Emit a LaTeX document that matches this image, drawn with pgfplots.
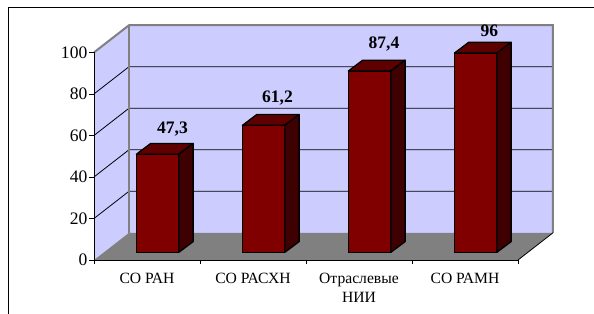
\documentclass[border=0pt]{standalone}
\usepackage{pgfplots}
\pgfplotsset{compat=1.18}
\usepackage{fontspec}
\setmainfont{Liberation Serif}
\definecolor{wall}{HTML}{CCCCFF}
\definecolor{floorgray}{HTML}{808080}
\definecolor{barfront}{HTML}{800000}
\definecolor{bartop}{HTML}{5E0000}
\definecolor{barside}{HTML}{3E0000}

% one 3-D bar: #1 = category index, #2 = value
\newcommand\threedbar[2]{%
  \pgfmathsetmacro\xa{#1+0.40}%
  \pgfmathsetmacro\xb{#1+0.80}%
  \pgfmathsetmacro\xc{#1+0.935}%
  \pgfmathsetmacro\xd{#1+0.535}%
  \pgfmathsetmacro\yb{3.66}%
  \pgfmathsetmacro\yt{#2+3.66}%
  \pgfmathsetmacro\ybb{3.66+5.2}%
  \pgfmathsetmacro\ytt{#2+3.66+5.2}%
  \edef\temp{%
    \noexpand\addplot[fill=barfront,draw=black,line width=1.3bp,line join=round]
      coordinates {(\xa,\yb) (\xb,\yb) (\xb,\yt) (\xa,\yt)} -- cycle;
    \noexpand\addplot[fill=bartop,draw=black,line width=1.3bp,line join=round]
      coordinates {(\xa,\yt) (\xb,\yt) (\xc,\ytt) (\xd,\ytt)} -- cycle;
    \noexpand\addplot[fill=barside,draw=black,line width=1.3bp,line join=round]
      coordinates {(\xb,\yb) (\xc,\ybb) (\xc,\ytt) (\xb,\yt)} -- cycle;
  }\temp}

\begin{document}
\begin{tikzpicture}
\path[use as bounding box, clip] (0bp,0bp) rectangle (594bp,314bp);
\draw[line width=1.2bp] (8.3bp,-10bp) -- (8.3bp,306.7bp) -- (620bp,306.7bp);
\begin{axis}[
  at={(94bp,54bp)}, anchor=origin,
  scale only axis, width=424bp, height=207.6bp,
  xmin=0, xmax=4, ymin=0, ymax=100,
  clip=false, axis on top,
  axis x line*=bottom, axis y line*=left,
  axis line style={line width=0.9bp, black},
  tick align=outside, major tick length=5bp,
  ytick={0,20,40,60,80,100},
  y tick style={black, line width=0.8bp},
  yticklabel style={font=\fontsize{17.6}{20}\selectfont, inner sep=0pt, xshift=-1.5bp},
  /pgf/number format/assume math mode=true,
  xtick={0.5,1.5,2.5,3.5},
  xticklabels={СО РАН,СО РАСХН,{Отраслевые\\НИИ},СО РАМН},
  major x tick style={draw=none},
  minor xtick={0,1,2,3,4},
  minor x tick style={black, line width=0.8bp},
  minor tick length=4bp,
  xticklabel style={font=\fontsize{15.7}{20}\selectfont, align=center, anchor=north, inner sep=0pt, yshift=-7.5bp},
]
% walls and floor
\fill[wall] (axis cs:0,0) -- (axis cs:0,100) -- (axis cs:0.33,113.1) -- (axis cs:0.33,13.1) -- cycle;
\fill[wall] (axis cs:0.33,13.1) rectangle (axis cs:4.33,113.1);
\draw[black, line width=0.8bp] (axis cs:0,20) -- (axis cs:0.33,33.1) -- (axis cs:4.33,33.1);
\draw[black, line width=0.8bp] (axis cs:0,40) -- (axis cs:0.33,53.1) -- (axis cs:4.33,53.1);
\draw[black, line width=0.8bp] (axis cs:0,60) -- (axis cs:0.33,73.1) -- (axis cs:4.33,73.1);
\draw[black, line width=0.8bp] (axis cs:0,80) -- (axis cs:0.33,93.1) -- (axis cs:4.33,93.1);
\draw[floorgray, line width=2bp, line join=miter]
  (axis cs:0,100) -- (axis cs:0.33,113.1) -- (axis cs:4.33,113.1) -- (axis cs:4.33,13.1);
\draw[floorgray, line width=2bp] (axis cs:0.33,13.1) -- (axis cs:0.33,113.1);
\fill[floorgray] (axis cs:0,0) -- (axis cs:4,0) -- (axis cs:4.33,13.1) -- (axis cs:0.33,13.1) -- cycle;
\draw[black, line width=0.8bp] (axis cs:4,0) -- (axis cs:4.33,13.1);
% bars
\threedbar{0}{47.3}
\threedbar{1}{61.2}
\threedbar{2}{87.4}
\threedbar{3}{96}
% value labels
\node[font=\bfseries\fontsize{17.6}{20}\selectfont, anchor=base, inner sep=0pt] at (axis cs:0.741,60.8) {47,3};
\node[font=\bfseries\fontsize{17.6}{20}\selectfont, anchor=base, inner sep=0pt] at (axis cs:1.731,76.1) {61,2};
\node[font=\bfseries\fontsize{17.6}{20}\selectfont, anchor=base, inner sep=0pt] at (axis cs:2.736,101.9) {87,4};
\node[font=\bfseries\fontsize{17.6}{20}\selectfont, anchor=base, inner sep=0pt] at (axis cs:3.731,107.7) {96};
\end{axis}
\end{tikzpicture}
\end{document}
